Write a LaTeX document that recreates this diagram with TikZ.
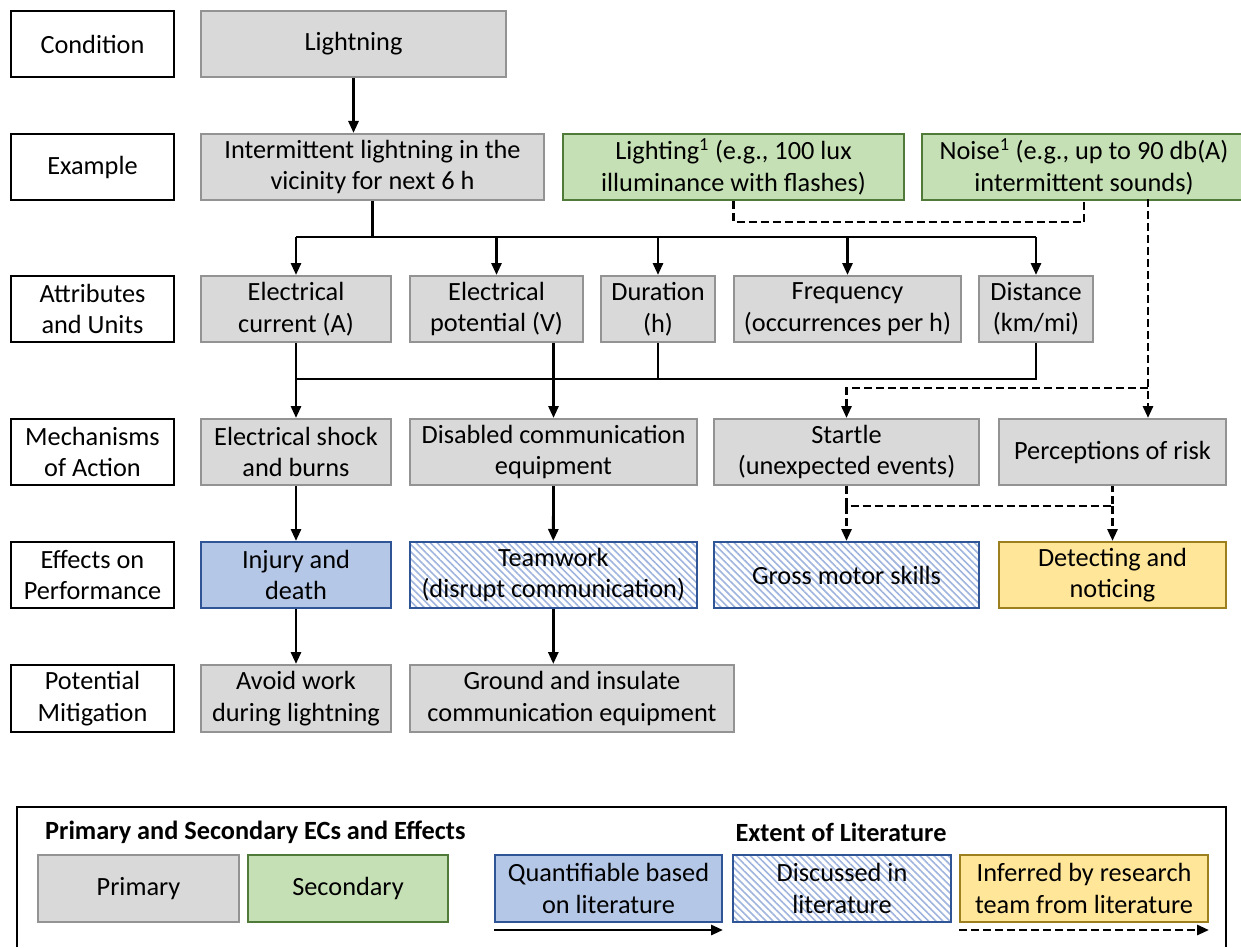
\documentclass[tikz,border=0pt]{standalone}
\usepackage{fontspec}
\setmainfont{Carlito}
\usetikzlibrary{arrows.meta,patterns.meta}

\definecolor{primfill}{HTML}{D9D9D9}
\definecolor{primline}{HTML}{939393}
\definecolor{secfill}{HTML}{C5E0B4}
\definecolor{secline}{HTML}{4F7A37}
\definecolor{quantfill}{HTML}{B4C7E7}
\definecolor{quantline}{HTML}{2F5597}
\definecolor{hatch}{HTML}{9FB5DE}
\definecolor{inffill}{HTML}{FFE699}
\definecolor{infline}{HTML}{9C7F1F}

\tikzset{
  base/.style={draw, line width=2pt, align=center, inner sep=0pt, anchor=north west,
    font=\fontsize{26.3}{31.5}\selectfont},
  rowlabel/.style={base, draw=black, fill=white},
  primary/.style={base, draw=primline, fill=primfill},
  secondary/.style={base, draw=secline, fill=secfill},
  quant/.style={base, draw=quantline, fill=quantfill},
  discussed/.style={base, draw=quantline, preaction={fill=white},
    pattern={Lines[angle=-45, distance=5pt, line width=1.6pt]}, pattern color=hatch},
  inferred/.style={base, draw=infline, fill=inffill},
  heading/.style={font=\fontsize{26.3}{31.5}\selectfont\bfseries, inner sep=0pt},
  link/.style={line width=2.8pt, black},
  arrow/.style={link, -{Triangle[length=12pt, width=10pt]}},
  dlink/.style={link, dash pattern=on 8pt off 4pt},
  darrow/.style={dlink, -{Triangle[length=12pt, width=10pt]}},
}

% \cell{style}{name}{x1}{y1}{x2}{y2}{text}: box from top-left (x1,y1) to bottom-right (x2,y2)
\newcommand\cell[7]{%
  \node[#1, minimum width={(#5-#3)*1pt}, minimum height={(#6-#4)*1pt}] (#2) at (#3,#4) {#7};}

\begin{document}
\begin{tikzpicture}[x=1pt, y=-1pt]
\useasboundingbox (0,0) rectangle (1241,947);

% row labels
\cell{rowlabel}{lcond}{10}{10}{173}{76}{Condition}
\cell{rowlabel}{lex}{10}{133}{173}{199}{Example}
\cell{rowlabel}{latt}{10}{275}{173}{341}{Attributes\\and Units}
\cell{rowlabel}{lmech}{10}{418}{173}{484}{Mechanisms\\of Action}
\cell{rowlabel}{leff}{10}{541}{173}{607}{Effects on\\Performance}
\cell{rowlabel}{lmit}{10}{664}{173}{731}{Potential\\Mitigation}

% condition and examples
\cell{primary}{light}{200}{10}{505}{76}{Lightning}
\cell{primary}{inter}{200}{133}{543}{199}{Intermittent lightning in the\\vicinity for next 6 h}
\cell{secondary}{lighting}{562}{133}{903}{199}{Lighting\textsuperscript{1} (e.g., 100 lux\\illuminance with flashes)}
\cell{secondary}{noise}{921}{133}{1245}{199}{Noise\textsuperscript{1} (e.g., up to 90 db(A)\\intermittent sounds)}

% attributes and units
\cell{primary}{cur}{200}{275}{390}{341}{Electrical\\current (A)}
\cell{primary}{pot}{409}{275}{582}{341}{Electrical\\potential (V)}
\cell{primary}{dur}{600}{275}{714}{341}{Duration\\(h)}
\cell{primary}{freq}{733}{275}{960}{341}{Frequency\\(occurrences per h)}
\cell{primary}{dist}{978}{275}{1092}{341}{Distance\\(km/mi)}

% mechanisms of action
\cell{primary}{shock}{200}{418}{390}{484}{Electrical shock\\and burns}
\cell{primary}{disab}{409}{418}{696}{484}{Disabled communication\\equipment}
\cell{primary}{startle}{713}{418}{978}{484}{Startle\\(unexpected events)}
\cell{primary}{percep}{998}{418}{1225}{484}{Perceptions of risk}

% effects on performance
\cell{quant}{injury}{200}{541}{390}{607}{Injury and\\death}
\cell{discussed}{team}{409}{541}{696}{607}{Teamwork\\(disrupt communication)}
\cell{discussed}{gross}{713}{541}{978}{607}{Gross motor skills}
\cell{inferred}{detect}{998}{541}{1225}{607}{Detecting and\\noticing}

% potential mitigation
\cell{primary}{avoid}{200}{664}{390}{731}{Avoid work\\during lightning}
\cell{primary}{ground}{409}{664}{733}{731}{Ground and insulate\\communication equipment}

% junction levels
\coordinate (busA) at (0,237);
\coordinate (busB) at (0,379);
\coordinate (joinS) at (0,222);
\coordinate (busN) at (0,388);
\coordinate (busE) at (0,506);
\coordinate (noiseOut) at (1148,199);

% solid connectors
\draw[arrow] (light.south) -- (light.south |- inter.north);
\draw[link] (inter.south) -- (inter.south |- busA);
\draw[link] (cur.north |- busA) -- (dist.north |- busA);
\foreach \n in {cur,pot,dur,freq,dist}
  \draw[arrow] (\n.north |- busA) -- (\n.north);
\draw[link] (cur.south) -- (cur.south |- busB) -- (dist.south |- busB) -- (dist.south);
\draw[link] (dur.south) -- (dur.south |- busB);
\draw[arrow] (cur.south |- busB) -- (shock.north);
\draw[arrow] (disab.north |- pot.south) -- (disab.north);
\draw[arrow] (shock.south) -- (injury.north);
\draw[arrow] (disab.south) -- (team.north);
\draw[arrow] (injury.south) -- (avoid.north);
\draw[arrow] (team.south) -- (team.south |- ground.north);

% dashed connectors
\draw[dlink] (lighting.south) -- (lighting.south |- joinS) -- (noise.south |- joinS) -- (noise.south);
\draw[darrow] (noiseOut) -- (noiseOut |- percep.north);
\draw[darrow] (noiseOut |- busN) -- (startle.north |- busN) -- (startle.north);
\draw[dlink] (startle.south) -- (startle.south |- busE) -- (percep.south |- busE) -- (percep.south);
\draw[darrow] (startle.south |- busE) -- (gross.north);
\draw[darrow] (percep.south |- busE) -- (detect.north);

% legend
\draw[line width=2.4pt] (17,947) -- (17,807) -- (1226,807) -- (1226,947);
\node[heading, anchor=west] (legA) at (45,832) {Primary and Secondary ECs and Effects};
\node[heading] (legB) at (841,832) {Extent of Literature};
\cell{primary}{kprim}{37}{854}{238}{921}{Primary}
\cell{secondary}{ksec}{247}{854}{447}{921}{Secondary}
\cell{quant}{kquant}{494}{854}{721}{921}{Quantifiable based\\on literature}
\cell{discussed}{kdisc}{732}{854}{950}{921}{Discussed in\\literature}
\cell{inferred}{kinf}{959}{854}{1207}{921}{Inferred by research\\team from literature}
\coordinate (kline) at (0,930);
\draw[arrow] (kquant.west |- kline) -- (kquant.east |- kline);
\draw[darrow] (kinf.west |- kline) -- (kinf.east |- kline);
\end{tikzpicture}
\end{document}
